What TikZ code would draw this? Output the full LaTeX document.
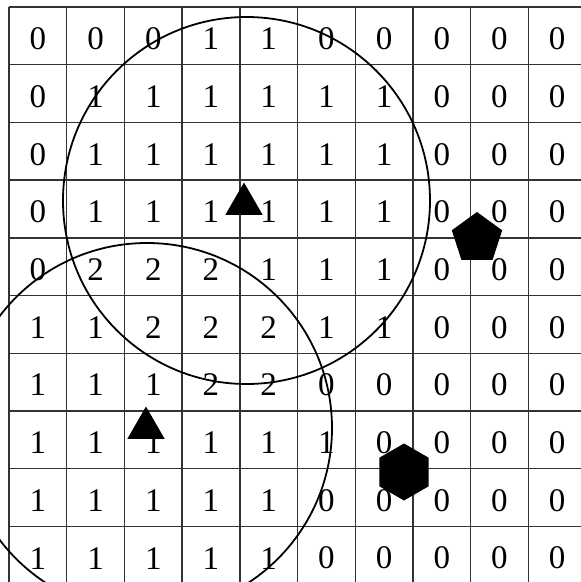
\documentclass[tikz,border=0pt]{standalone}
\usepackage{fontspec}
\setmainfont{Liberation Serif}
\usetikzlibrary{shapes.geometric}

\begin{document}
\begin{tikzpicture}[x=1pt,y=-1pt,
    gridline/.style={black!80,line width=1.4pt},
    ring/.style={black,line width=1.8pt},
    digit/.style={inner sep=0pt,font=\fontsize{33}{33}\selectfont},
    marker/.style={regular polygon,fill=black,draw=none,inner sep=0pt}]
    \def\cellw{57.7}
    \def\cellh{57.7}
    \def\xorg{9}
    \def\yorg{7}

    \useasboundingbox (0,0) rectangle (581,582);
    \clip (0,0) rectangle (581,582);
    \fill[white] (0,0) rectangle (581,582);

    % grid lines
    \foreach \k in {0,...,10} {
        \draw[gridline] ({\xorg+\k*\cellw},\yorg) -- ({\xorg+\k*\cellw},{\yorg+10*\cellh});
        \draw[gridline] (\xorg,{\yorg+\k*\cellh}) -- ({\xorg+10*\cellw},{\yorg+\k*\cellh});
    }

    \newcommand{\drawcellrow}[2]{%
        \foreach [count=\col from 0] \val in {#2} {
            \node[digit] (cell-#1-\col)
                at ({\xorg+(\col+0.5)*\cellw},{\yorg+(#1+0.5)*\cellh+3}) {\val};
        }
    }
    \drawcellrow{0}{0,0,0,1,1,0,0,0,0,0}
    \drawcellrow{1}{0,1,1,1,1,1,1,0,0,0}
    \drawcellrow{2}{0,1,1,1,1,1,1,0,0,0}
    \drawcellrow{3}{0,1,1,1,1,1,1,0,0,0}
    \drawcellrow{4}{0,2,2,2,1,1,1,0,0,0}
    \drawcellrow{5}{1,1,2,2,2,1,1,0,0,0}
    \drawcellrow{6}{1,1,1,2,2,0,0,0,0,0}
    \drawcellrow{7}{1,1,1,1,1,1,0,0,0,0}
    \drawcellrow{8}{1,1,1,1,1,0,0,0,0,0}
    \drawcellrow{9}{1,1,1,1,1,0,0,0,0,0}

    % ranges
    \coordinate (ringA) at (246.5,200.5);
    \coordinate (ringB) at (147,428);
    \draw[ring] (ringA) circle[radius=183.5];
    \draw[ring] (ringB) circle[radius=185];

    % markers
    \node[marker,regular polygon sides=3,minimum size=43pt] (triA) at (244,204) {};
    \node[marker,regular polygon sides=3,minimum size=43pt] (triB) at (146,428) {};
    \node[marker,regular polygon sides=5,minimum size=53pt] (penta) at (477,238.5) {};
    \node[marker,regular polygon sides=6,shape border rotate=30,minimum size=57pt] (hexa) at (404,472) {};
\end{tikzpicture}
\end{document}
